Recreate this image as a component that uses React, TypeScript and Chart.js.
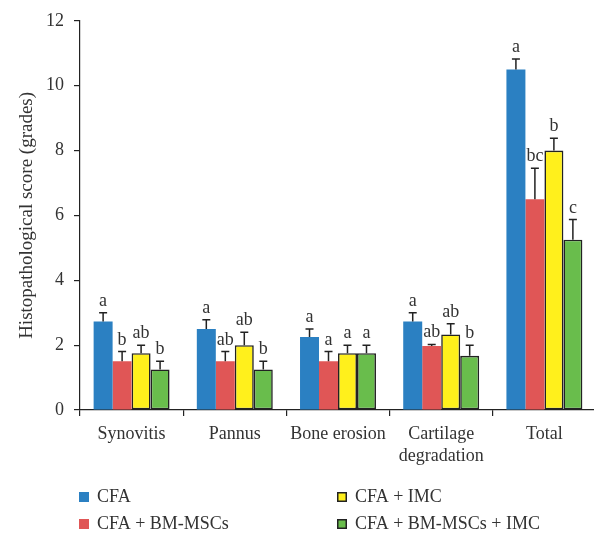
import React, { useEffect, useRef } from "react";
import { Chart, registerables } from "chart.js";

Chart.register(...registerables);

const categories: (string | string[])[] = ["Synovitis", "Pannus", "Bone erosion", ["Cartilage", "degradation"], "Total"];

const seriesNames = ["CFA", "CFA + BM-MSCs", "CFA + IMC", "CFA + BM-MSCs + IMC"];

const cfaValues = [2.73, 2.5, 2.25, 2.73, 10.5];
const bmValues = [1.5, 1.5, 1.5, 1.97, 6.5];
const imcValues = [1.75, 2.0, 1.75, 2.33, 8.0];
const comboValues = [1.25, 1.25, 1.75, 1.67, 5.25];

const cfaErrors = [0.27, 0.28, 0.25, 0.27, 0.32];
const bmErrors = [0.3, 0.3, 0.3, 0.05, 0.95];
const imcErrors = [0.25, 0.4, 0.25, 0.33, 0.38];
const comboErrors = [0.25, 0.25, 0.25, 0.33, 0.62];

const cfaLetters = ["a", "a", "a", "a", "a"];
const bmLetters = ["b", "ab", "a", "ab", "bc"];
const imcLetters = ["ab", "ab", "a", "ab", "b"];
const comboLetters = ["b", "b", "a", "b", "c"];

const yTicks = [0, 2, 4, 6, 8, 10, 12];

const FONT = "'Liberation Serif', 'DejaVu Serif', serif";
const TEXT = "#333333";
const LINE = "#222222";
const colors = ["#2b80c2", "#e05656", "#fff01c", "#69bd4c"];
const borders = [0, 0, 1.6, 1.6];

const errorArrays = [cfaErrors, bmErrors, imcErrors, comboErrors];
const letterArrays = [cfaLetters, bmLetters, imcLetters, comboLetters];

const errorPlugin = {
  id: "errorBars",
  afterDatasetsDraw(chart: any) {
    const ctx = chart.ctx;
    const yScale = chart.scales.y;
    ctx.save();
    chart.data.datasets.forEach((ds: any, i: number) => {
      const meta = chart.getDatasetMeta(i);
      meta.data.forEach((bar: any, j: number) => {
        const v = ds.data[j];
        const e = errorArrays[i][j];
        const x = bar.x;
        const yTop = yScale.getPixelForValue(v);
        const yErr = yScale.getPixelForValue(v + e);
        ctx.strokeStyle = LINE;
        ctx.lineWidth = 1.5;
        ctx.beginPath();
        ctx.moveTo(x, yTop);
        ctx.lineTo(x, yErr);
        ctx.moveTo(x - 4, yErr);
        ctx.lineTo(x + 4, yErr);
        ctx.stroke();
        ctx.fillStyle = TEXT;
        ctx.font = `18px ${FONT}`;
        ctx.textAlign = "center";
        ctx.textBaseline = "alphabetic";
        ctx.fillText(letterArrays[i][j], x, yErr - 7);
      });
    });
    ctx.restore();
  },
};

const legendPlugin = {
  id: "customLegend",
  afterDraw(chart: any) {
    const ctx = chart.ctx;
    const pos = [
      { x: 79, y: 497 },
      { x: 79, y: 524 },
      { x: 337, y: 497 },
      { x: 337, y: 524 },
    ];
    ctx.save();
    seriesNames.forEach((name, i) => {
      const p = pos[i];
      ctx.fillStyle = colors[i];
      ctx.fillRect(p.x, p.y - 5, 10, 10);
      if (borders[i] > 0) {
        ctx.strokeStyle = LINE;
        ctx.lineWidth = 1.5;
        ctx.strokeRect(p.x + 0.75, p.y - 4.25, 8.5, 8.5);
      }
      ctx.fillStyle = TEXT;
      ctx.font = `18px ${FONT}`;
      ctx.textAlign = "left";
      ctx.textBaseline = "middle";
      ctx.fillText(name, p.x + 18, p.y);
    });
    ctx.restore();
  },
};

export default function App() {
  const ref = useRef<HTMLCanvasElement>(null);
  useEffect(() => {
    if (!ref.current) return;
    const valueArrays = [cfaValues, bmValues, imcValues, comboValues];
    const chart = new Chart(ref.current, {
      type: "bar",
      data: {
        labels: categories as any,
        datasets: seriesNames.map((name, i) => ({
          label: name,
          data: valueArrays[i],
          backgroundColor: colors[i],
          borderColor: LINE,
          borderWidth: borders[i],
          borderSkipped: false,
          categoryPercentage: 0.736,
          barPercentage: 1,
        })),
      },
      options: {
        responsive: false,
        animation: false,
        devicePixelRatio: 1,
        layout: { padding: { top: 14, left: 0, right: 0, bottom: 0 } },
        plugins: { legend: { display: false }, tooltip: { enabled: false } },
        scales: {
          x: {
            grid: { display: true, drawOnChartArea: false, drawTicks: true, tickLength: 6, color: LINE, offset: true, lineWidth: 1.2 },
            border: { display: true, color: LINE, width: 1.2 },
            ticks: {
              font: { family: FONT, size: 18, lineHeight: 1.25 },
              color: TEXT,
              padding: 7,
              maxRotation: 0,
              autoSkip: false,
            },
            afterFit: (s: any) => {
              s.height = 125;
            },
          },
          y: {
            min: 0,
            max: 12,
            afterBuildTicks: (s: any) => {
              s.ticks = yTicks.map((v) => ({ value: v }));
            },
            grid: { display: true, drawOnChartArea: false, drawTicks: true, tickLength: 6, color: LINE, lineWidth: 1.2 },
            border: { display: true, color: LINE, width: 1.2 },
            ticks: { font: { family: FONT, size: 18 }, color: TEXT, padding: 10 },
            title: {
              display: true,
              text: "Histopathological score (grades)",
              font: { family: FONT, size: 19 },
              color: TEXT,
              padding: { top: 16, bottom: 0 },
            },
            afterFit: (s: any) => {
              s.width = 80;
            },
          },
        },
      },
      plugins: [errorPlugin, legendPlugin],
    });
    return () => chart.destroy();
  }, []);
  return (
    <div style={{ position: "fixed", left: 0, top: 0, width: 594, height: 535, overflow: "hidden", background: "#fff" }}>
      <canvas ref={ref} width={596} height={535} style={{ display: "block" }} />
    </div>
  );
}
